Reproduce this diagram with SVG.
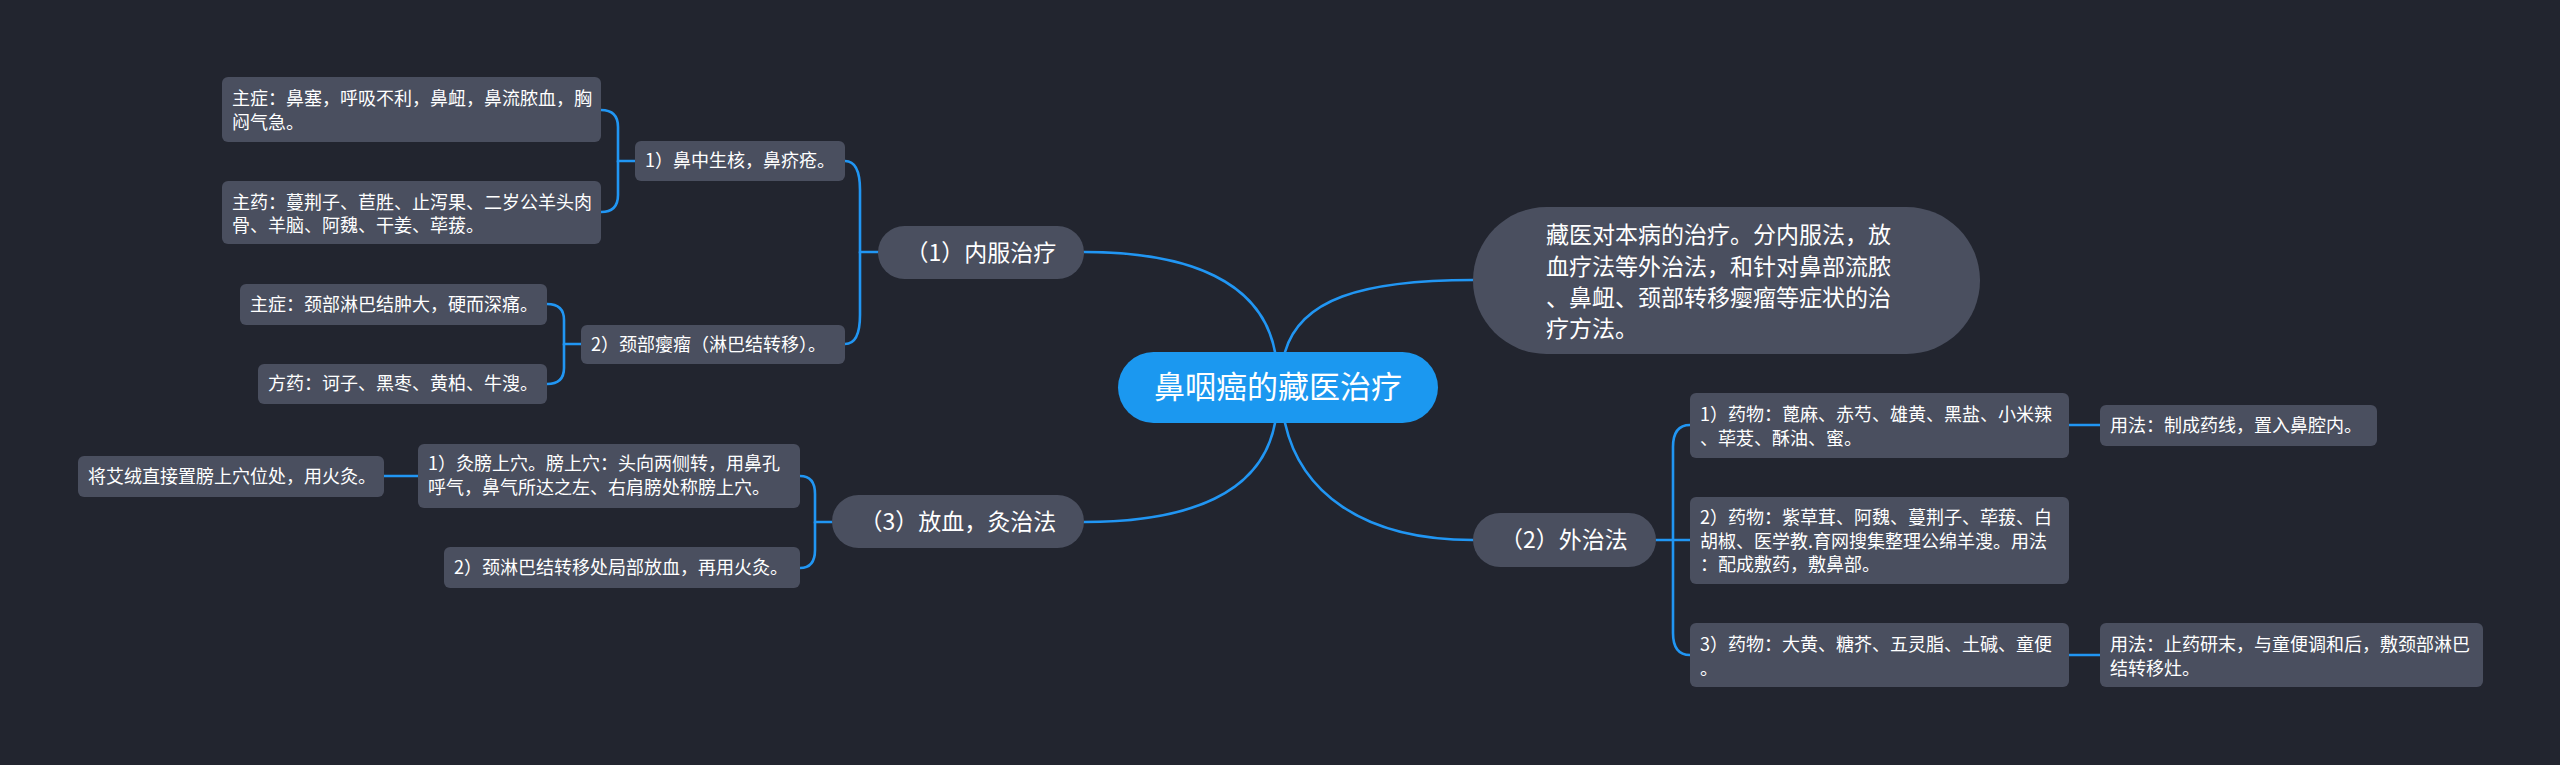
<svg xmlns="http://www.w3.org/2000/svg" width="2560" height="765" viewBox="0 0 2560 765">
<style>
.bg{fill:#22252f}
.box{fill:#4a4f5f}
.main{fill:#1b98f0}
.t{font-family:"Noto Sans CJK SC","Noto Sans",sans-serif;fill:#ffffff}
.s{font-size:18px}
.m{font-size:23px}
.l{font-size:31px}
.c{text-anchor:middle}
.ln{fill:none;stroke:#2196f3;stroke-width:2.6;stroke-linecap:round}
</style>
<rect class="bg" x="0" y="0" width="2560" height="765"/>
<g id="connectors">
<path class="ln" d="M1275,352 C1262,282 1190,252 1084,252"/>
<path class="ln" d="M1285,352 C1300,300 1360,280 1473,280"/>
<path class="ln" d="M1275,423 C1262,493 1190,522 1084,522"/>
<path class="ln" d="M1285,423 C1300,490 1360,540 1473,540"/>
<path class="ln" d="M845,161 Q860,161 860,190 L860,252 L878,252"/>
<path class="ln" d="M845,344 Q860,344 860,315 L860,252"/>
<path class="ln" d="M601,110 Q618,110 618,127 L618,161 L635,161"/>
<path class="ln" d="M601,212 Q618,212 618,195 L618,161"/>
<path class="ln" d="M547,304 Q564,304 564,320 L564,344 L581,344"/>
<path class="ln" d="M547,384 Q564,384 564,368 L564,344"/>
<path class="ln" d="M800,476 Q815,476 815,494 L815,522 L832,522"/>
<path class="ln" d="M800,568 Q815,568 815,550 L815,522"/>
<path class="ln" d="M418,476 L384,476"/>
<path class="ln" d="M1656,540 L1690,540"/>
<path class="ln" d="M1690,425 Q1673,425 1673,447 L1673,633 Q1673,655 1690,655"/>
<path class="ln" d="M2069,425 L2100,425"/>
<path class="ln" d="M2069,655 L2100,655"/>
</g>
<g id="main">
<rect class="main" x="1118" y="352" width="320" height="71" rx="35.5"/>
<text class="t l c" x="1278" y="398">鼻咽癌的藏医治疗</text>
</g>
<g id="desc">
<rect class="box" x="1473" y="207" width="507" height="147" rx="73.5"/>
<text class="t m" x="1546" y="243">藏医对本病的治疗。分内服法，放</text>
<text class="t m" x="1546" y="275">血疗法等外治法，和针对鼻部流脓</text>
<text class="t m" x="1546" y="306">、鼻衄、颈部转移瘿瘤等症状的治</text>
<text class="t m" x="1546" y="337">疗方法。</text>
</g>
<g id="n1">
<rect class="box" x="878" y="226" width="206" height="53" rx="26.5"/>
<text class="t m c" x="981" y="261">（1）内服治疗</text>
</g>
<g id="n1a">
<rect class="box" x="635" y="141" width="210" height="40" rx="6"/>
<text class="t s" x="645" y="167">1）鼻中生核，鼻疥疮。</text>
</g>
<g id="n1a1">
<rect class="box" x="222" y="77" width="379" height="65" rx="6"/>
<text class="t s" x="232" y="105">主症：鼻塞，呼吸不利，鼻衄，鼻流脓血，胸</text>
<text class="t s" x="232" y="129">闷气急。</text>
</g>
<g id="n1a2">
<rect class="box" x="222" y="181" width="379" height="63" rx="6"/>
<text class="t s" x="232" y="209">主药：蔓荆子、苣胜、止泻果、二岁公羊头肉</text>
<text class="t s" x="232" y="232">骨、羊脑、阿魏、干姜、荜菝。</text>
</g>
<g id="n1b">
<rect class="box" x="581" y="325" width="264" height="39" rx="6"/>
<text class="t s" x="591" y="351">2）颈部瘿瘤（淋巴结转移）。</text>
</g>
<g id="n1b1">
<rect class="box" x="240" y="284" width="307" height="41" rx="6"/>
<text class="t s" x="250" y="311">主症：颈部淋巴结肿大，硬而深痛。</text>
</g>
<g id="n1b2">
<rect class="box" x="258" y="364" width="289" height="40" rx="6"/>
<text class="t s" x="268" y="390">方药：诃子、黑枣、黄柏、牛溲。</text>
</g>
<g id="n3">
<rect class="box" x="832" y="495" width="252" height="53" rx="26.5"/>
<text class="t m c" x="958" y="530">（3）放血，灸治法</text>
</g>
<g id="n3a">
<rect class="box" x="418" y="444" width="382" height="64" rx="6"/>
<text class="t s" x="428" y="470">1）灸膀上穴。膀上穴：头向两侧转，用鼻孔</text>
<text class="t s" x="428" y="494">呼气，鼻气所达之左、右肩膀处称膀上穴。</text>
</g>
<g id="n3a1">
<rect class="box" x="78" y="456" width="306" height="41" rx="6"/>
<text class="t s" x="88" y="483">将艾绒直接置膀上穴位处，用火灸。</text>
</g>
<g id="n3b">
<rect class="box" x="444" y="547" width="356" height="41" rx="6"/>
<text class="t s" x="454" y="574">2）颈淋巴结转移处局部放血，再用火灸。</text>
</g>
<g id="n2">
<rect class="box" x="1473" y="513" width="183" height="54" rx="27"/>
<text class="t m c" x="1564" y="548">（2）外治法</text>
</g>
<g id="n2a">
<rect class="box" x="1690" y="393" width="379" height="65" rx="6"/>
<text class="t s" x="1700" y="421">1）药物：蓖麻、赤芍、雄黄、黑盐、小米辣</text>
<text class="t s" x="1700" y="445">、荜茇、酥油、蜜。</text>
</g>
<g id="n2a1">
<rect class="box" x="2100" y="405" width="277" height="41" rx="6"/>
<text class="t s" x="2110" y="432">用法：制成药线，置入鼻腔内。</text>
</g>
<g id="n2b">
<rect class="box" x="1690" y="497" width="379" height="87" rx="6"/>
<text class="t s" x="1700" y="524">2）药物：紫草茸、阿魏、蔓荆子、荜菝、白</text>
<text class="t s" x="1700" y="548">胡椒、医学教.育网搜集整理公绵羊溲。用法</text>
<text class="t s" x="1700" y="571">：配成敷药，敷鼻部。</text>
</g>
<g id="n2c">
<rect class="box" x="1690" y="623" width="379" height="64" rx="6"/>
<text class="t s" x="1700" y="651">3）药物：大黄、糖芥、五灵脂、土碱、童便</text>
<text class="t s" x="1700" y="675">。</text>
</g>
<g id="n2c1">
<rect class="box" x="2100" y="623" width="383" height="64" rx="6"/>
<text class="t s" x="2110" y="651">用法：止药研末，与童便调和后，敷颈部淋巴</text>
<text class="t s" x="2110" y="675">结转移灶。</text>
</g>
</svg>
